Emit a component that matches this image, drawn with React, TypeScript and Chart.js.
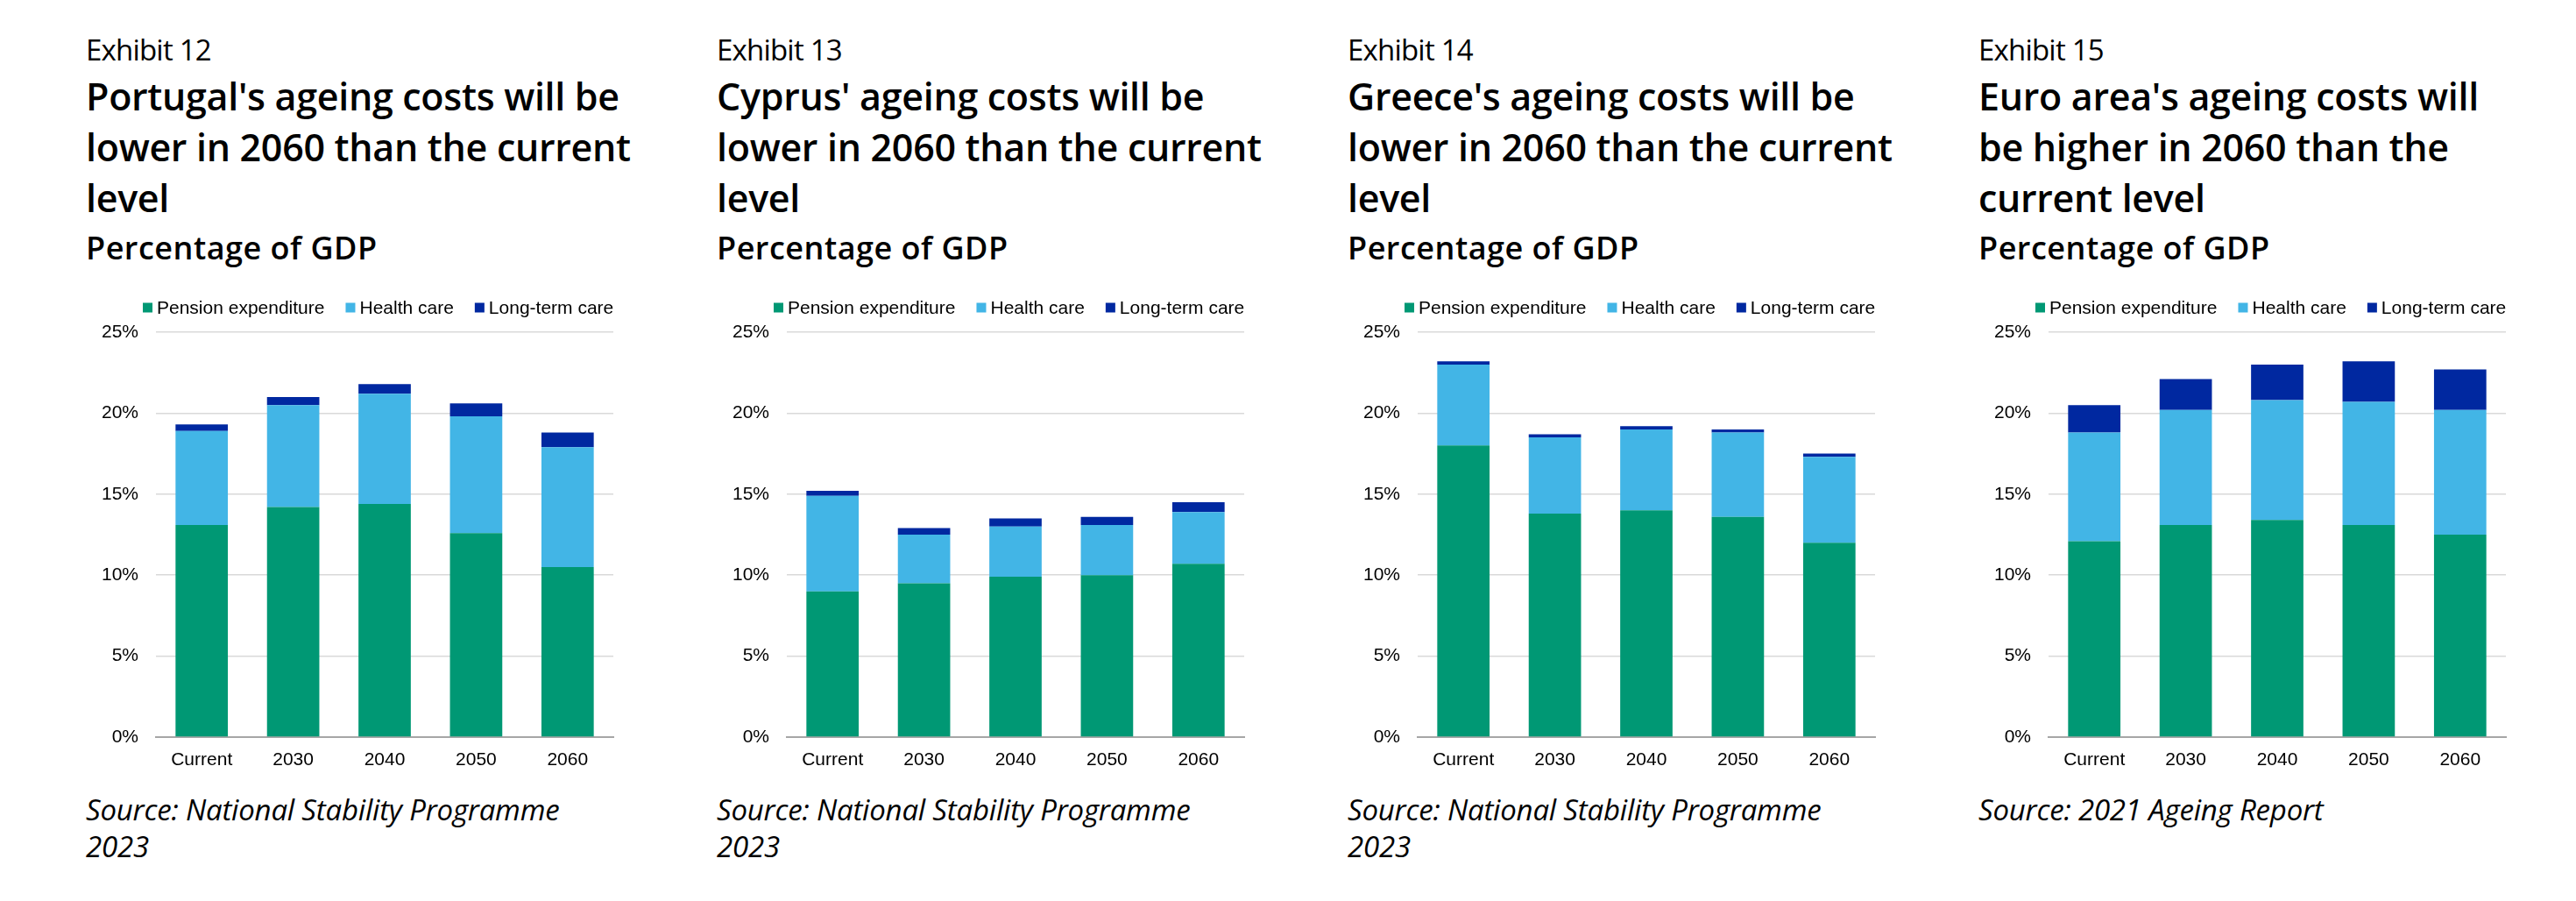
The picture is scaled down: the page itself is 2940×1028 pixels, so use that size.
import React, { useEffect, useRef } from 'react';
import { Chart, registerables } from 'chart.js';

Chart.register(...registerables);

// ---------- data ----------
const categories = ['Current', '2030', '2040', '2050', '2060'];
const seriesNames = ['Pension expenditure', 'Health care', 'Long-term care'];
const seriesColors = ['#009874', '#42B5E6', '#0028A0'];
const yTickValues = [0, 5, 10, 15, 20, 25];

const portugalPension = [13.1, 14.2, 14.4, 12.6, 10.5];
const portugalHealth = [5.8, 6.3, 6.8, 7.2, 7.4];
const portugalLongTerm = [0.4, 0.5, 0.6, 0.8, 0.9];

const cyprusPension = [9.0, 9.5, 9.9, 10.0, 10.7];
const cyprusHealth = [5.9, 3.0, 3.1, 3.1, 3.2];
const cyprusLongTerm = [0.3, 0.4, 0.5, 0.5, 0.6];

const greecePension = [18.0, 13.8, 14.0, 13.6, 12.0];
const greeceHealth = [5.0, 4.7, 5.0, 5.2, 5.3];
const greeceLongTerm = [0.2, 0.2, 0.2, 0.2, 0.2];

const euroPension = [12.1, 13.1, 13.4, 13.1, 12.5];
const euroHealth = [6.7, 7.1, 7.4, 7.6, 7.7];
const euroLongTerm = [1.7, 1.9, 2.2, 2.5, 2.5];

const exhibitLabels = ['Exhibit 12', 'Exhibit 13', 'Exhibit 14', 'Exhibit 15'];
const titleLines = [
  ["Portugal's ageing costs will be", 'lower in 2060 than the current', 'level'],
  ["Cyprus' ageing costs will be", 'lower in 2060 than the current', 'level'],
  ["Greece's ageing costs will be", 'lower in 2060 than the current', 'level'],
  ["Euro area's ageing costs will", 'be higher in 2060 than the', 'current level'],
];
const subtitle = 'Percentage of GDP';
const sourceLines = [
  ['Source: National Stability Programme', '2023'],
  ['Source: National Stability Programme', '2023'],
  ['Source: National Stability Programme', '2023'],
  ['Source: 2021 Ageing Report'],
];

const panelSeries = [
  [portugalPension, portugalHealth, portugalLongTerm],
  [cyprusPension, cyprusHealth, cyprusLongTerm],
  [greecePension, greeceHealth, greeceLongTerm],
  [euroPension, euroHealth, euroLongTerm],
];

// ---------- styling ----------
const CHART_FONT = '"Liberation Sans", Arial, sans-serif';
const TEXT_FONT = '"Open Sans", "Noto Sans", sans-serif';
const PANEL_STEP = 720;
const TEXT_LEFT = 98;

const topLegend = {
  id: 'topLegend',
  afterDraw(chart: any) {
    const { ctx, chartArea } = chart;
    ctx.save();
    ctx.font = `21px ${CHART_FONT}`;
    ctx.textBaseline = 'middle';
    ctx.textAlign = 'left';
    let x = chartArea.left - 15;
    const y = chartArea.top - 28;
    chart.data.datasets.forEach((ds: any) => {
      ctx.fillStyle = ds.backgroundColor;
      ctx.fillRect(x, y - 5.5, 11, 11);
      ctx.fillStyle = '#000';
      ctx.fillText(ds.label, x + 16, y + 1);
      x += 16 + ctx.measureText(ds.label).width + 24;
    });
    ctx.restore();
  },
};

function PanelChart({ series, left }: { series: number[][]; left: number }) {
  const ref = useRef<HTMLCanvasElement | null>(null);
  useEffect(() => {
    if (!ref.current) return;
    const chart = new Chart(ref.current, {
      type: 'bar',
      data: {
        labels: categories,
        datasets: series.map((d, i) => ({
          label: seriesNames[i],
          data: d,
          backgroundColor: seriesColors[i],
          borderWidth: 0,
          barPercentage: 0.572,
          categoryPercentage: 1,
        })),
      },
      options: {
        animation: false,
        responsive: false,
        layout: { padding: { top: 50, right: 18, bottom: 0, left: 0 } },
        plugins: { legend: { display: false }, tooltip: { enabled: false } },
        scales: {
          x: {
            stacked: true,
            grid: { display: false, drawTicks: false },
            border: { display: true, color: '#a6a6a6', width: 2 },
            ticks: { padding: 14, color: '#000', font: { family: CHART_FONT, size: 21 } },
            afterFit: (s: any) => {
              s.height = 48;
            },
          },
          y: {
            stacked: true,
            min: 0,
            max: 25,
            afterBuildTicks: (s: any) => {
              s.ticks = yTickValues.map((v) => ({ value: v }));
            },
            ticks: {
              padding: 20,
              color: '#000',
              font: { family: CHART_FONT, size: 21 },
              callback: (v: any) => `${v}%`,
            },
            grid: {
              drawTicks: false,
              lineWidth: 1.5,
              color: (c: any) => (c.tick && c.tick.value === 0 ? 'rgba(0,0,0,0)' : '#d9d9d9'),
            },
            border: { display: false },
            afterFit: (s: any) => {
              s.width = 80;
            },
          },
        },
      },
      plugins: [topLegend],
    } as any);
    return () => chart.destroy();
  }, [series]);
  return (
    <canvas
      ref={ref}
      width={620}
      height={560}
      style={{ position: 'absolute', left, top: 329, width: 620, height: 560 }}
    />
  );
}

function TextLine({
  x,
  baseline,
  size,
  weight,
  italic,
  spacing,
  text,
}: {
  x: number;
  baseline: number;
  size: number;
  weight: number;
  italic?: boolean;
  spacing?: number;
  text: string;
}) {
  return (
    <div
      style={{
        position: 'absolute',
        left: x,
        top: baseline - 0.888 * size,
        fontFamily: TEXT_FONT,
        fontSize: size,
        lineHeight: `${size}px`,
        fontWeight: weight,
        fontStyle: italic ? 'italic' : 'normal',
        letterSpacing: spacing ? `${spacing}px` : 'normal',
        whiteSpace: 'nowrap',
        color: '#000',
      }}
    >
      {text}
    </div>
  );
}

export default function App() {
  const titleBaselines = [126, 184, 241.7];
  const sourceBaselines = [936, 978.3];
  return (
    <div
      style={{
        position: 'absolute',
        left: 0,
        top: 0,
        width: 2940,
        height: 1028,
        overflow: 'hidden',
        background: '#fff',
      }}
    >
      {panelSeries.map((series, p) => {
        const x = TEXT_LEFT + p * PANEL_STEP;
        return (
          <React.Fragment key={p}>
            <TextLine x={x} baseline={69.3} size={33} weight={400} spacing={-0.8} text={exhibitLabels[p]} />
            {titleLines[p].map((t, i) => (
              <TextLine key={i} x={x} baseline={titleBaselines[i]} size={43} weight={600} spacing={-0.3} text={t} />
            ))}
            <TextLine x={x} baseline={296.7} size={36} weight={600} spacing={0.5} text={subtitle} />
            {sourceLines[p].map((t, i) => (
              <TextLine key={i} x={x} baseline={sourceBaselines[i]} size={33} weight={400} italic spacing={-0.2} text={t} />
            ))}
            <PanelChart series={series} left={x} />
          </React.Fragment>
        );
      })}
    </div>
  );
}
